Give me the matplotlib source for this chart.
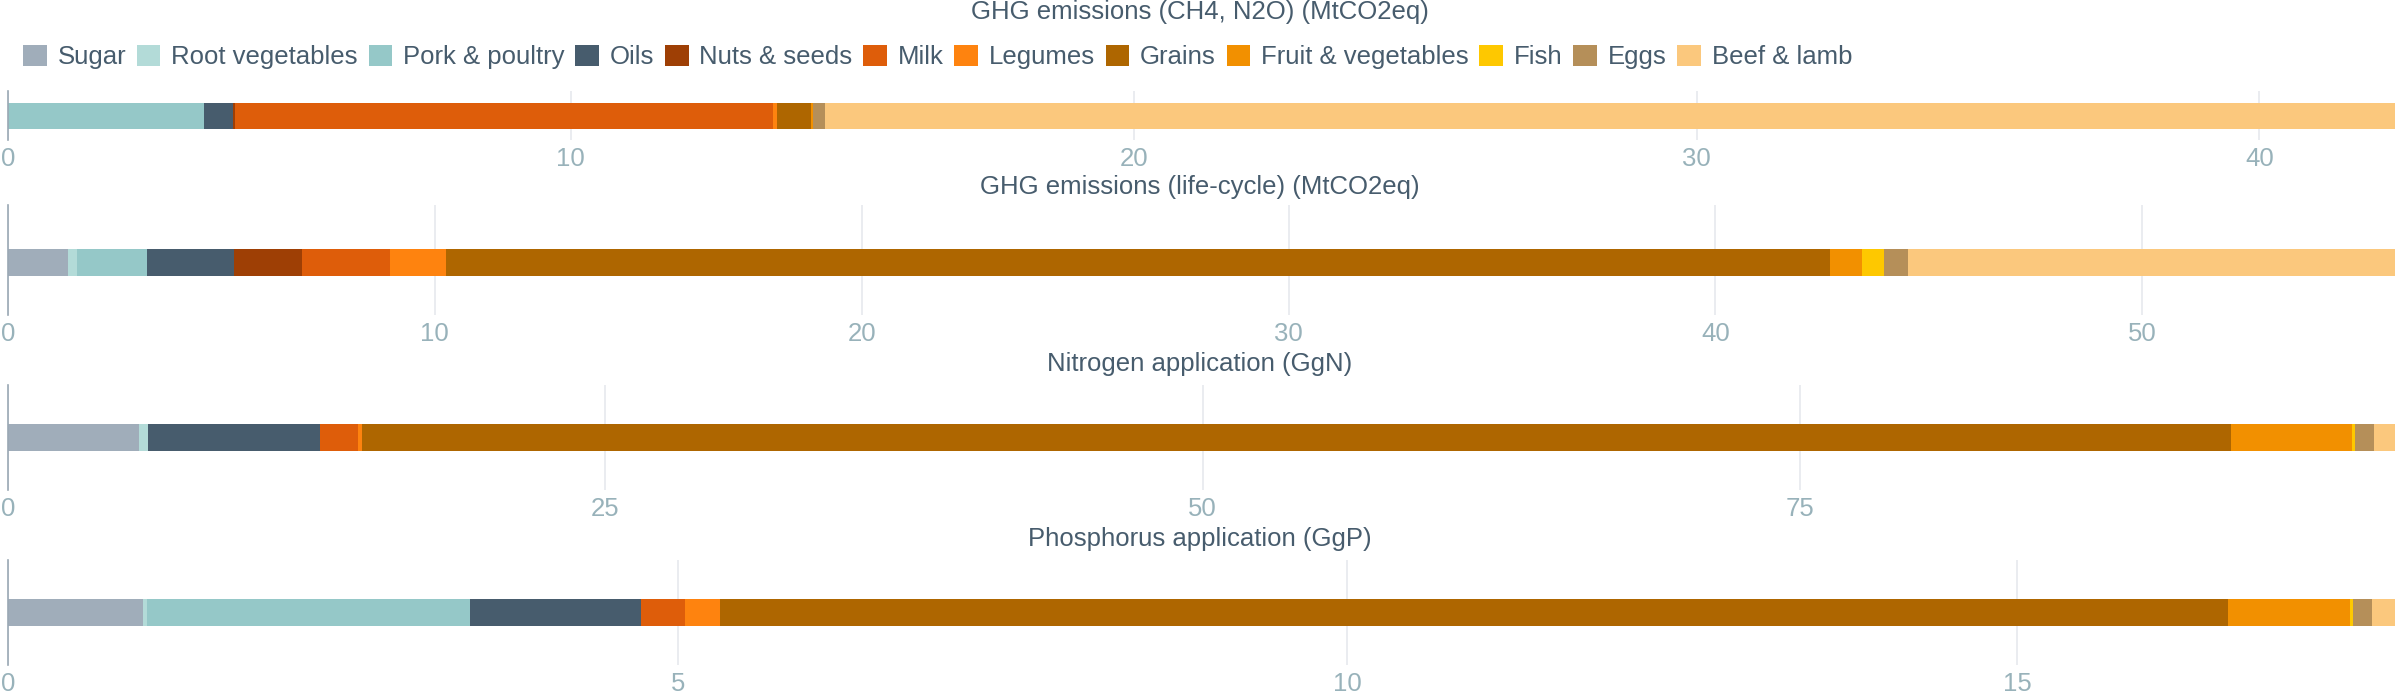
import matplotlib
matplotlib.use("Agg")
import matplotlib.pyplot as plt
from matplotlib.patches import Patch
import numpy as np

plt.rcParams['font.family'] = ['Liberation Sans', 'DejaVu Sans']

# food groups, in stacking order
categories = ['Sugar', 'Root vegetables', 'Pork & poultry', 'Oils', 'Nuts & seeds',
              'Milk', 'Legumes', 'Grains', 'Fruit & vegetables', 'Fish', 'Eggs',
              'Beef & lamb']
colors = ['#a0adba', '#b3dbd8', '#95c8c8', '#475c6d', '#9e3f05', '#de5d0a',
          '#fe830f', '#ae6600', '#f29000', '#fec800', '#b58f59', '#fbc87d']

ghg_ch4_n2o = [0, 0, 3.48, 0.51, 0.05, 9.56, 0.07, 0.60, 0.03, 0, 0.21, 27.9]
ghg_lifecycle = [1.40, 0.21, 1.65, 2.04, 1.59, 2.05, 1.32, 32.43, 0.75, 0.51, 0.57, 11.4]
nitrogen = [5.48, 0.38, 0, 7.21, 0, 1.58, 0.17, 78.2, 5.07, 0.13, 0.80, 0.88]
phosphorus = [1.008, 0.03, 2.41, 1.28, 0, 0.33, 0.26, 11.26, 0.91, 0.02, 0.144, 0.17]

titles = ['GHG emissions (CH4, N2O) (MtCO2eq)', 'GHG emissions (life-cycle) (MtCO2eq)',
          'Nitrogen application (GgN)', 'Phosphorus application (GgP)']
tick_sets = [[0, 10, 20, 30, 40], [0, 10, 20, 30, 40, 50], [0, 25, 50, 75], [0, 5, 10, 15]]
series = [ghg_ch4_n2o, ghg_lifecycle, nitrogen, phosphorus]

TXT = '#475c6d'
TICK = '#98b2ba'
GRID = '#e6e9ee'
FS = 18.5

W, H = 2400, 700
fig = plt.figure(figsize=(24, 7), dpi=100)

# panel layout in pixels: (grid top, grid bottom, bar top, bar bottom, title y)
layout = [(91, 140, 103, 129, 12),
          (205, 315, 249, 276, 187),
          (385, 490, 424, 451, 364),
          (560, 665, 599, 626, 539)]
x0, x1 = 8, 2395

for vals, title, ticks, (gt, gb, bt, bb, ty) in zip(series, titles, tick_sets, layout):
    ax = fig.add_axes([x0 / W, 1 - gb / H, (x1 - x0) / W, (gb - gt) / H])
    bh = bb - bt
    left = 0
    for v, c in zip(vals, colors):
        ax.barh(0, v, left=left, height=1, color=c, linewidth=0)
        left += v
    ax.set_xlim(0, sum(vals))
    ax.set_ylim(-0.5 - (gb - bb) / bh, 0.5 + (bt - gt) / bh)
    ax.set_xticks(ticks)
    ax.set_xticklabels([str(t) for t in ticks])
    ax.set_yticks([])
    for s in ['top', 'right', 'bottom']:
        ax.spines[s].set_visible(False)
    ax.spines['left'].set_color('#9aa8b4')
    ax.spines['left'].set_linewidth(1.2)
    ax.tick_params(axis='x', length=0, pad=5, labelsize=FS, labelcolor=TICK)
    ax.grid(axis='x', color=GRID, linewidth=1.2)
    ax.set_axisbelow(True)
    fig.text(0.5, 1 - ty / H, title, ha='center', va='center', fontsize=FS, color=TXT)

handles = [Patch(facecolor=c, edgecolor='none', label=n) for n, c in zip(categories, colors)]
fig.legend(handles=handles, loc='center left', bbox_to_anchor=(23 / W, 1 - 57 / H),
           ncol=len(categories), frameon=False, fontsize=FS, labelcolor=TXT,
           handlelength=0.92, handleheight=0.92, handletextpad=0.42,
           columnspacing=0.42, borderpad=0, borderaxespad=0)

fig.savefig('out.png', dpi=100, facecolor='white')
